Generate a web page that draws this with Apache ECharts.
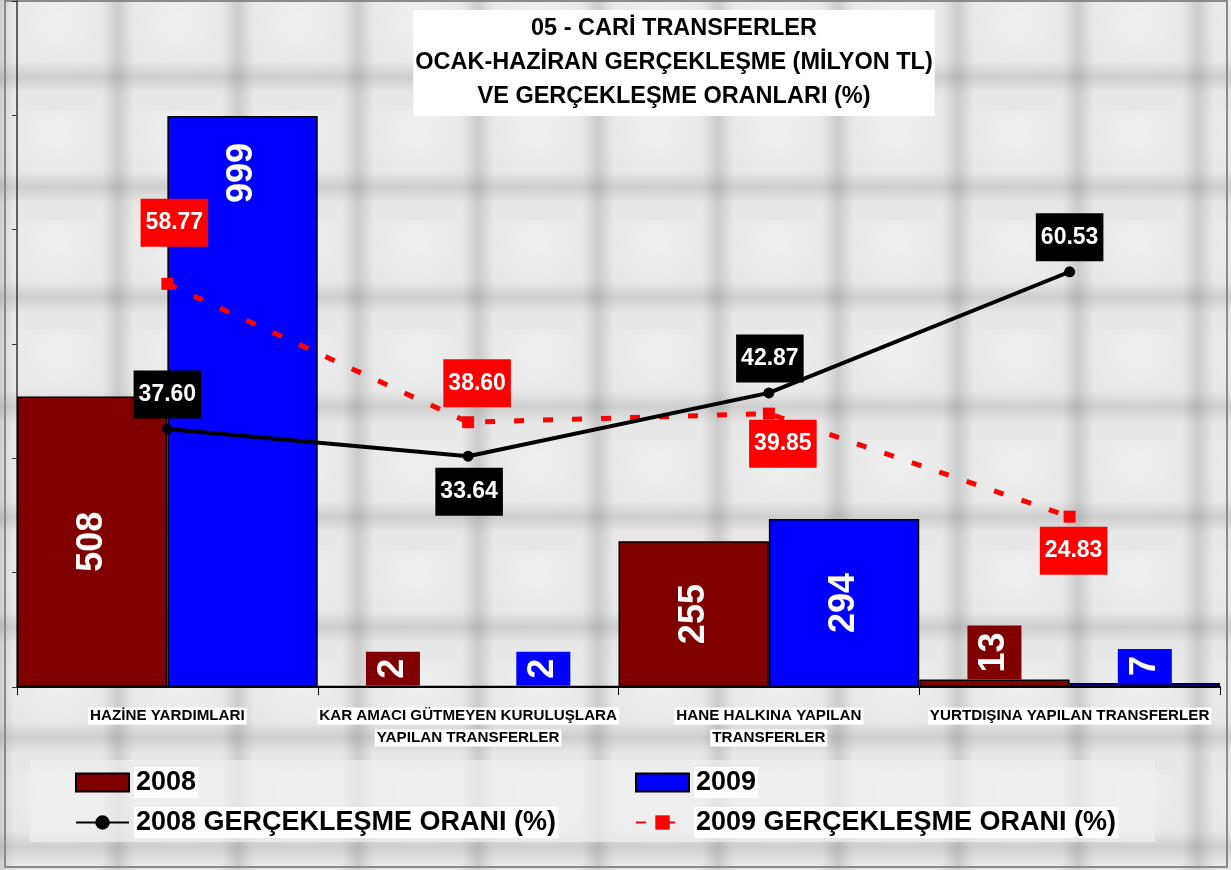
<!DOCTYPE html>
<html>
<head>
<meta charset="utf-8">
<script src="https://cdn.jsdelivr.net/npm/echarts@6/dist/echarts.min.js"></script>
<style>
html, body { margin: 0; background: #fff; }
#main { width: 1231px; height: 870px; }
</style>
</head>
<body>
<div id="main"></div>
<script>
var categories = [
    'HAZİNE YARDIMLARI',
    'KAR AMACI GÜTMEYEN KURULUŞLARA\nYAPILAN TRANSFERLER',
    'HANE HALKINA YAPILAN\nTRANSFERLER',
    'YURTDIŞINA YAPILAN TRANSFERLER'
];
var real2008 = [508, 2, 255, 13];      // milyon TL
var real2009 = [999, 2, 294, 7];
var rate2008 = [37.60, 33.64, 42.87, 60.53];   // %
var rate2009 = [58.77, 38.60, 39.85, 24.83];

// etiket yerleri (sadece görünüm)
var barPos2008 = ['inside', 'top', 'inside', 'top'];
var barPos2009 = ['insideTop', 'top', 'inside', 'top'];
var side2008 = ['top', 'bottom', 'top', 'top'];
var gap2008 = [5, 6, 5, 5];
var shift2008 = [0, 1, 1, 0];
var side2009 = ['top', 'top', 'bottom', 'bottom'];
var gap2009 = [31, 9, 0, 4];
var shift2009 = [7, 9, 14, 4];

var FONT = "'Liberation Sans Narrow', 'Arial Narrow', 'Liberation Sans', Arial, sans-serif";
var SANS = "'Liberation Sans', Arial, sans-serif";

// arka plan karoları
var tile = document.createElement('canvas');
tile.width = 120; tile.height = 110;
var g = tile.getContext('2d');
g.fillStyle = '#e7e7e7';
g.fillRect(0, 0, 120, 110);
var rg = g.createRadialGradient(58, 22, 5, 58, 22, 60);
rg.addColorStop(0, 'rgba(255,255,255,0.35)');
rg.addColorStop(1, 'rgba(255,255,255,0)');
g.fillStyle = rg;
g.fillRect(0, 0, 120, 110);
function vband(cx) {
    var gr = g.createLinearGradient(cx - 16, 0, cx + 16, 0);
    gr.addColorStop(0, 'rgba(0,0,0,0)');
    gr.addColorStop(0.5, 'rgba(0,0,0,0.12)');
    gr.addColorStop(1, 'rgba(0,0,0,0)');
    g.fillStyle = gr;
    g.fillRect(cx - 16, 0, 32, 110);
}
function hband(cy) {
    var gr = g.createLinearGradient(0, cy - 16, 0, cy + 16);
    gr.addColorStop(0, 'rgba(0,0,0,0)');
    gr.addColorStop(0.5, 'rgba(0,0,0,0.11)');
    gr.addColorStop(1, 'rgba(0,0,0,0)');
    g.fillStyle = gr;
    g.fillRect(0, cy - 16, 120, 32);
}
vband(118); vband(-2); hband(77);

function barData(vals, pos, color) {
    return vals.map(function (v, i) {
        var l = {
            show: true, position: pos[i], rotate: 90, verticalAlign: 'middle',
            color: '#fff', fontFamily: SANS, fontWeight: 'bold', fontSize: 36,
            lineHeight: 36, backgroundColor: color, padding: [9, 7]
        };
        if (pos[i] === 'top') { l.align = 'left'; l.distance = 0; }
        else if (pos[i] === 'insideTop') { l.align = 'right'; l.distance = 20; }
        else { l.align = 'center'; }
        return { value: v, label: l };
    });
}

function rateData(vals, side, gap, shift) {
    return vals.map(function (v, i) {
        return { value: v, label: { position: side[i], distance: gap[i], offset: [shift[i], 0] } };
    });
}

function rateLabel(bg) {
    return {
        show: true, color: '#fff', backgroundColor: bg, fontFamily: FONT,
        fontWeight: 'bold', fontSize: 23, lineHeight: 28, padding: [10, 5],
        formatter: function (p) { return p.value.toFixed(2); }
    };
}

var legendText = { color: '#000', fontFamily: FONT, fontWeight: 'bold', fontSize: 27, lineHeight: 30, backgroundColor: '#fff', padding: [1, 2, 0, 2] };
function oneLegend(name, left, top, icon) {
    var l = { data: [name], left: left, top: top, itemWidth: 53, itemHeight: 18, itemGap: 5, padding: 0, textStyle: legendText };
    if (icon) l.icon = icon;
    return l;
}

var myChart = echarts.init(document.getElementById('main'));
var option = {
    backgroundColor: { image: tile, repeat: 'repeat' },
    animation: false,
    title: {
        text: '05 - CARİ TRANSFERLER\nOCAK-HAZİRAN GERÇEKLEŞME (MİLYON TL)\nVE GERÇEKLEŞME ORANLARI (%)',
        left: 672, top: 10, textAlign: 'center',
        backgroundColor: '#fff', padding: [2, 2],
        textStyle: { color: '#000', fontFamily: FONT, fontWeight: 'bold', fontSize: 23.5, lineHeight: 34 }
    },
    graphic: [
        { type: 'rect', silent: true, z: 0, shape: { x: 30, y: 760, width: 1125, height: 82 },
          style: { fill: 'rgba(240,240,240,0.7)' } },
        { type: 'rect', silent: true, z: 0, shape: { x: 5, y: 1, width: 1222, height: 866 },
          style: { fill: 'none', stroke: '#8a8a8a', lineWidth: 2 } }
    ],
    legend: [
        oneLegend('2008', 75, 767, 'rect'),
        oneLegend('2009', 635, 767, 'rect'),
        oneLegend('2008 GERÇEKLEŞME ORANI (%)', 75, 807),
        oneLegend('2009 GERÇEKLEŞME ORANI (%)', 635, 807)
    ],
    grid: { left: 17, right: 11, top: 1, bottom: 183 },
    xAxis: {
        type: 'category',
        data: categories,
        axisLine: { lineStyle: { color: '#000', width: 2 } },
        axisTick: { show: true, length: 8, lineStyle: { color: '#000' } },
        axisLabel: {
            interval: 0, margin: 18,
            formatter: function (v) {
                return v.split('\n').map(function (s) { return '{w|' + s + '}'; }).join('\n');
            },
            rich: {
                w: { color: '#000', fontFamily: FONT, fontWeight: 'bold', fontSize: 15.2, lineHeight: 22,
                     backgroundColor: '#fff', padding: [1, 2] }
            }
        }
    },
    yAxis: [
        {
            type: 'value', min: 0, max: 1200, interval: 200,
            axisLine: { show: true, lineStyle: { color: '#333', width: 1.5 } },
            axisTick: { show: true, length: 5, lineStyle: { color: '#333' } },
            axisLabel: { show: false },
            splitLine: { show: false }
        },
        { type: 'value', min: 0, max: 100, show: false, splitLine: { show: false } }
    ],
    series: [
        {
            name: '2008', type: 'bar', barGap: '0%', barCategoryGap: '0%',
            itemStyle: { color: '#800000', borderColor: '#000', borderWidth: 1.5 },
            data: barData(real2008, barPos2008, '#800000')
        },
        {
            name: '2009', type: 'bar',
            itemStyle: { color: '#0000ff', borderColor: '#000', borderWidth: 1.5 },
            data: barData(real2009, barPos2009, '#0000ff')
        },
        {
            name: '2008 GERÇEKLEŞME ORANI (%)', type: 'line', yAxisIndex: 1, z: 5,
            symbol: 'circle', symbolSize: 11,
            lineStyle: { color: '#000', width: 4 },
            itemStyle: { color: '#000' },
            label: rateLabel('#000'),
            data: rateData(rate2008, side2008, gap2008, shift2008)
        },
        {
            name: '2009 GERÇEKLEŞME ORANI (%)', type: 'line', yAxisIndex: 1, z: 4,
            symbol: 'rect', symbolSize: 12,
            lineStyle: { color: '#ff0000', width: 5, type: [10, 19] },
            itemStyle: { color: '#ff0000' },
            label: rateLabel('#ff0000'),
            data: rateData(rate2009, side2009, gap2009, shift2009)
        }
    ]
};
myChart.setOption(option, true);
</script>
</body>
</html>
